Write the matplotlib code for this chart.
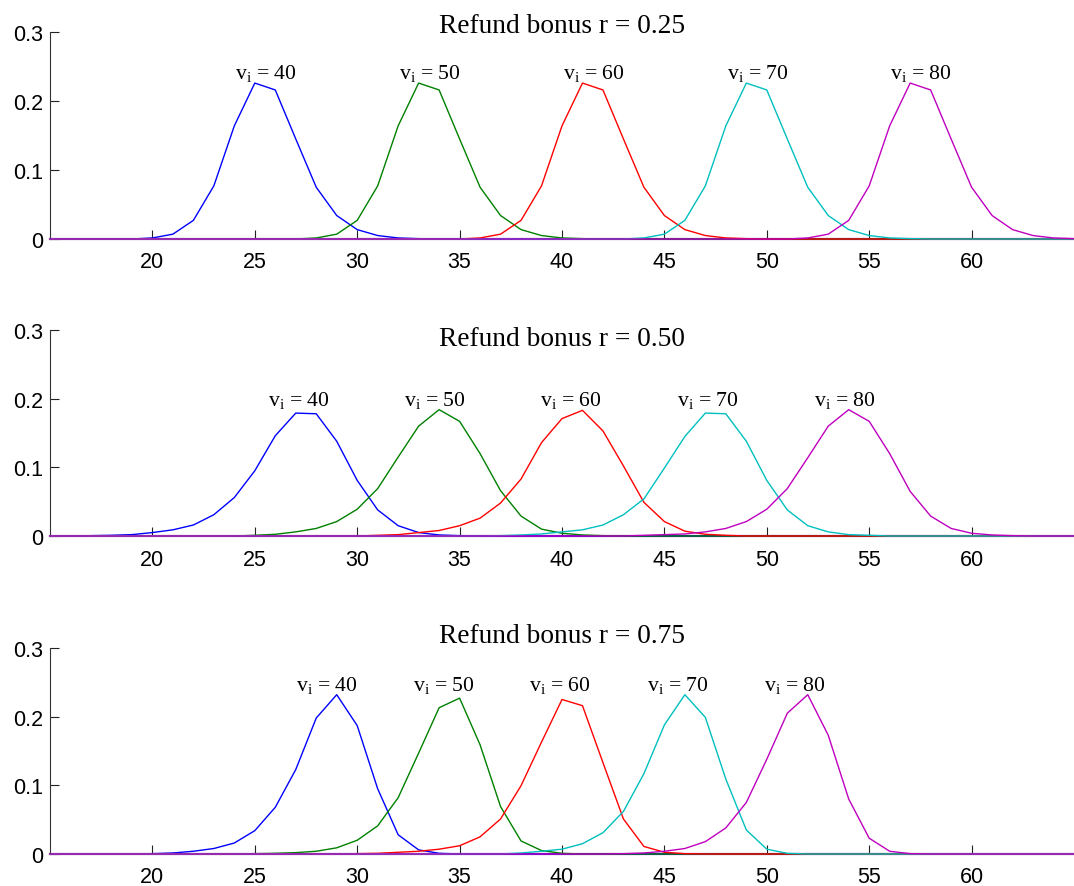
import numpy as np
import matplotlib
matplotlib.use("Agg")
import matplotlib.pyplot as plt

plt.rcParams['mathtext.fontset'] = 'custom'
plt.rcParams['mathtext.rm'] = 'Liberation Serif'
plt.rcParams['mathtext.it'] = 'Liberation Serif:italic'

# valeurs (probabilite par entier)
x_min, x_max = 15, 65
values_v = [40, 50, 60, 70, 80]
colors = ['#0000ff', '#008000', '#ff0000', '#00bfbf', '#bf00bf']
bonus = ['0.25', '0.50', '0.75']

r25_start = [20, 28, 36, 44, 52]
r25_probs = [
    [0.0015, 0.007, 0.027, 0.077, 0.164, 0.226, 0.216, 0.145, 0.075, 0.034, 0.0136, 0.005, 0.0015, 0.0005],
    [0.0015, 0.007, 0.027, 0.077, 0.164, 0.226, 0.216, 0.145, 0.075, 0.034, 0.0136, 0.005, 0.0015, 0.0005],
    [0.0015, 0.007, 0.027, 0.077, 0.164, 0.226, 0.216, 0.145, 0.075, 0.034, 0.0136, 0.005, 0.0015, 0.0005],
    [0.0015, 0.007, 0.027, 0.077, 0.164, 0.226, 0.216, 0.145, 0.075, 0.034, 0.0136, 0.005, 0.0015, 0.0005],
    [0.0015, 0.007, 0.027, 0.077, 0.164, 0.226, 0.216, 0.145, 0.075, 0.034, 0.0136, 0.005, 0.0015, 0.0005],
]

r50_start = [17, 25, 31, 37, 44]
r50_probs = [
    [0.0005, 0.001, 0.002, 0.005, 0.009, 0.016, 0.031, 0.056, 0.095, 0.146, 0.179, 0.178, 0.138, 0.081, 0.038, 0.015, 0.005, 0.0015, 0.0005],
    [0.001, 0.0025, 0.006, 0.011, 0.021, 0.039, 0.069, 0.115, 0.160, 0.184, 0.167, 0.120, 0.066, 0.029, 0.010, 0.004, 0.0015, 0.0005],
    [0.001, 0.002, 0.005, 0.008, 0.015, 0.026, 0.048, 0.083, 0.136, 0.171, 0.183, 0.153, 0.102, 0.049, 0.021, 0.007, 0.0025, 0.001],
    [0.0005, 0.0015, 0.003, 0.006, 0.009, 0.016, 0.031, 0.054, 0.099, 0.145, 0.179, 0.178, 0.138, 0.081, 0.038, 0.015, 0.006, 0.002, 0.001],
    [0.001, 0.002, 0.003, 0.006, 0.011, 0.021, 0.039, 0.069, 0.114, 0.160, 0.184, 0.167, 0.120, 0.065, 0.029, 0.011, 0.004, 0.0015, 0.0005],
]

r75_start = [20, 25, 30, 38, 43]
r75_probs = [
    [0.0005, 0.0015, 0.004, 0.008, 0.016, 0.034, 0.068, 0.123, 0.198, 0.232, 0.187, 0.095, 0.028, 0.006, 0.001],
    [0.0005, 0.001, 0.002, 0.004, 0.009, 0.020, 0.041, 0.082, 0.147, 0.213, 0.227, 0.159, 0.069, 0.019, 0.005, 0.001],
    [0.0005, 0.001, 0.0025, 0.004, 0.007, 0.012, 0.025, 0.051, 0.0995, 0.163, 0.225, 0.216, 0.133, 0.051, 0.011, 0.0025, 0.0005],
    [0.0015, 0.004, 0.007, 0.015, 0.031, 0.062, 0.117, 0.188, 0.232, 0.199, 0.109, 0.035, 0.007, 0.001],
    [0.0005, 0.0015, 0.004, 0.008, 0.018, 0.038, 0.075, 0.138, 0.205, 0.232, 0.173, 0.080, 0.023, 0.004, 0.0005],
]

panels = [(r25_start, r25_probs), (r50_start, r50_probs), (r75_start, r75_probs)]

# position des axes en pixels et hauteur du titre
W, H = 1074, 887
axes_px = [(33, 240), (331, 537), (649, 855)]
title_y = [1.0, 0.928, 1.027]

fig = plt.figure(figsize=(W / 100, H / 100), dpi=100)
x = np.arange(x_min, x_max + 1)

for k, (starts, probs) in enumerate(panels):
    top, bot = axes_px[k]
    ax = fig.add_axes([50 / W, 1 - bot / H, 1 - 50 / W, (bot - top) / H])
    peak = 0
    for s, p, c in zip(starts, probs, colors):
        y = np.zeros_like(x, dtype=float)
        y[s - x_min:s - x_min + len(p)] = p
        ax.plot(x, y, color=c, lw=1.0, clip_on=False, zorder=3)
        peak = max(peak, max(p))
    for s, p, v in zip(starts, probs, values_v):
        xs = np.arange(s, s + len(p))
        mean = np.sum(xs * np.array(p)) / np.sum(p)
        ax.text(mean, peak + 0.007, r'v$_{\mathrm{i}}$ = %d' % v,
                family='Liberation Serif', fontsize=15.7,
                ha='center', va='baseline')
    ax.set_xlim(x_min, x_max)
    ax.set_ylim(0, 0.3)
    ax.set_xticks([20, 25, 30, 35, 40, 45, 50, 55, 60])
    ax.set_yticks([0, 0.1, 0.2, 0.3])
    ax.set_yticklabels(['0', '0.1', '0.2', '0.3'])
    ax.tick_params(direction='in', length=6.7, width=0.8, labelsize=15.5,
                   color='#222222')
    ax.tick_params(axis='x', pad=9)
    ax.tick_params(axis='y', pad=5)
    for lab in ax.get_xticklabels() + ax.get_yticklabels():
        lab.set_family('Liberation Sans')
    ax.spines['top'].set_visible(False)
    ax.spines['right'].set_visible(False)
    ax.spines['left'].set_linewidth(0.8)
    ax.spines['left'].set_color('#333333')
    ax.spines['bottom'].set_linewidth(1.6)
    ax.spines['bottom'].set_color('#8a40a0')
    ax.spines['bottom'].set_zorder(1)
    ax.set_title('Refund bonus r = ' + bonus[k], family='Liberation Serif',
                 fontsize=19.7, y=title_y[k], pad=0, va='baseline')

fig.savefig('out.png', dpi=100)
